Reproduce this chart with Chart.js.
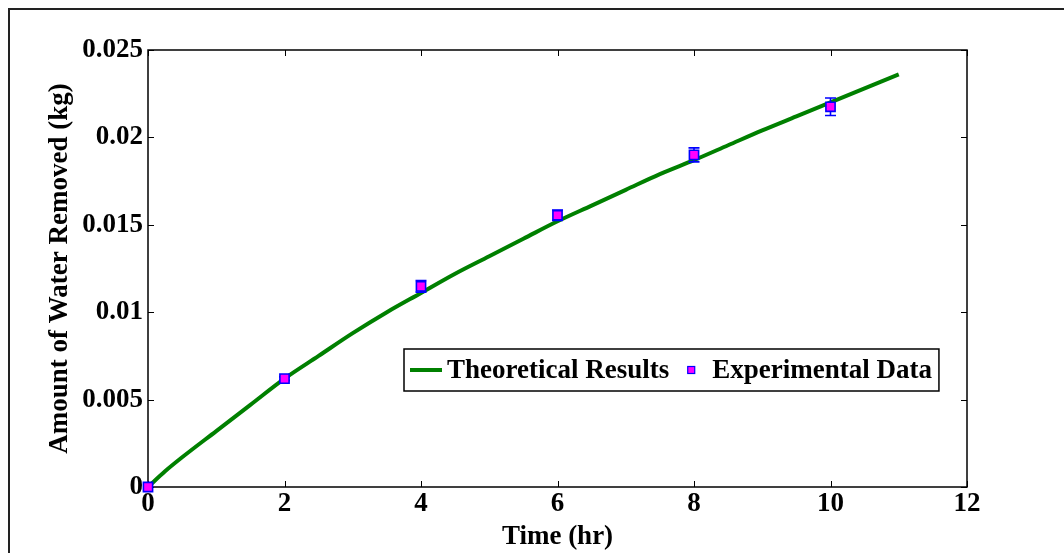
<!DOCTYPE html>
<html>
<head>
<meta charset="utf-8">
<script src="https://cdn.jsdelivr.net/npm/chart.js@4/dist/chart.umd.min.js"></script>
<style>
  html, body { margin: 0; padding: 0; background: #fff; }
  #wrap { position: relative; width: 1064px; height: 553px; }
</style>
</head>
<body>
<div id="wrap"><canvas id="waterChart" width="1064" height="553"></canvas></div>
<script>
// Theoretical curve
const theoryTime = [0, 0.25, 0.5, 1, 1.5, 2, 2.5, 3, 3.5, 4, 4.5, 5, 5.5, 6, 6.5, 7, 7.5, 8, 8.5, 9, 9.5, 10, 10.5, 11];
const theoryWater = [0, 0.0009, 0.0017, 0.0032, 0.0047, 0.0062, 0.0075, 0.0088, 0.0100, 0.0111, 0.0122, 0.0132, 0.0142, 0.0152, 0.0161, 0.0170, 0.0179, 0.0187, 0.01955, 0.0204, 0.0212, 0.0220, 0.0228, 0.0236];

// Experimental points and error half-widths
const expTime = [0, 2, 4, 6, 8, 10];
const expWater = [0, 0.0062, 0.01148, 0.01555, 0.0190, 0.02175];
const expErr = [0, 0.0001, 0.00033, 0.0003, 0.0004, 0.0005];

// Axis ticks
const xTicks = [0, 2, 4, 6, 8, 10, 12];
const yTicks = [0, 0.005, 0.01, 0.015, 0.02, 0.025];
const yTickLabels = ["0", "0.005", "0.01", "0.015", "0.02", "0.025"];

const FONT = "'Liberation Serif', 'Times New Roman', serif";
const FS = 27;

// Error bars drawn just before the experimental markers
const errorBars = {
    id: 'errorBars',
    beforeDatasetDraw(chart, args) {
        if (args.index !== 0) return;
        const { ctx, scales: { x, y } } = chart;
        ctx.save();
        ctx.strokeStyle = '#0000ff';
        ctx.lineWidth = 1.6;
        expTime.forEach((t, i) => {
            if (!expErr[i]) return;
            const px = x.getPixelForValue(t);
            const top = y.getPixelForValue(expWater[i] + expErr[i]);
            const bot = y.getPixelForValue(expWater[i] - expErr[i]);
            ctx.beginPath();
            ctx.moveTo(px, top); ctx.lineTo(px, bot);
            ctx.moveTo(px - 5.5, top); ctx.lineTo(px + 5.5, top);
            ctx.moveTo(px - 5.5, bot); ctx.lineTo(px + 5.5, bot);
            ctx.stroke();
        });
        ctx.restore();
    }
};

// Box around plot, inward ticks on all four sides, outer figure border, legend
const frame = {
    id: 'frame',
    beforeDatasetsDraw(chart) {
        const { ctx, chartArea: ca, scales: { x, y } } = chart;
        ctx.save();
        // figure border (only top and left are in view)
        ctx.strokeStyle = '#222';
        ctx.lineWidth = 2;
        ctx.beginPath();
        ctx.moveTo(9, chart.height); ctx.lineTo(9, 9); ctx.lineTo(chart.width, 9);
        ctx.stroke();

        ctx.strokeStyle = '#000';
        ctx.lineWidth = 1.5;
        ctx.strokeRect(ca.left, ca.top, ca.right - ca.left, ca.bottom - ca.top);
        ctx.lineWidth = 1;
        ctx.beginPath();
        xTicks.forEach(t => {
            const px = Math.round(x.getPixelForValue(t)) + 0.5;
            ctx.moveTo(px, ca.bottom); ctx.lineTo(px, ca.bottom - 6);
            ctx.moveTo(px, ca.top); ctx.lineTo(px, ca.top + 6);
        });
        yTicks.forEach(v => {
            const py = Math.round(y.getPixelForValue(v)) + 0.5;
            ctx.moveTo(ca.left, py); ctx.lineTo(ca.left + 6, py);
            ctx.moveTo(ca.right, py); ctx.lineTo(ca.right - 6, py);
        });
        ctx.stroke();
        ctx.restore();
    },
    afterDraw(chart) {
        const { ctx, chartArea: ca } = chart;
        ctx.save();
        // legend
        const lx = ca.left + 256, ly = ca.top + 299, lh = 42;
        ctx.font = "bold " + FS + "px " + FONT;
        const t1 = chart.data.datasets[1].label, t2 = chart.data.datasets[0].label;
        const w1 = ctx.measureText(t1).width, w2 = ctx.measureText(t2).width;
        const lw = 6 + 32 + 5 + w1 + 22 + 21 + w2 + 7;
        ctx.fillStyle = '#fff';
        ctx.fillRect(lx, ly, lw, lh);
        ctx.lineWidth = 1.5;
        ctx.strokeStyle = '#000';
        ctx.strokeRect(lx, ly, lw, lh);
        const cy = ly + lh / 2;
        ctx.strokeStyle = '#008000';
        ctx.lineWidth = 4;
        ctx.beginPath();
        ctx.moveTo(lx + 6, cy); ctx.lineTo(lx + 38, cy);
        ctx.stroke();
        ctx.fillStyle = '#000';
        ctx.textBaseline = 'middle';
        ctx.fillText(t1, lx + 43, cy + 1);
        const mx = lx + 43 + w1 + 22;
        ctx.fillStyle = '#ff00ff';
        ctx.strokeStyle = '#0000ff';
        ctx.lineWidth = 1.2;
        ctx.fillRect(mx - 3.5, cy - 3.5, 7, 7);
        ctx.strokeRect(mx - 3.5, cy - 3.5, 7, 7);
        ctx.fillStyle = '#000';
        ctx.fillText(t2, mx + 21, cy + 1);
        ctx.restore();
    }
};

new Chart(document.getElementById('waterChart'), {
    type: 'scatter',
    data: {
        datasets: [
            {
                label: 'Experimental Data',
                data: expTime.map((t, i) => ({ x: t, y: expWater[i] })),
                pointStyle: 'rect',
                pointRadius: 6.5,
                backgroundColor: '#ff00ff',
                borderColor: '#0000ff',
                pointBorderWidth: 1.6,
                clip: false,
                order: 0
            },
            {
                label: 'Theoretical Results',
                data: theoryTime.map((t, i) => ({ x: t, y: theoryWater[i] })),
                showLine: true,
                borderColor: '#008000',
                borderWidth: 4,
                pointRadius: 0,
                cubicInterpolationMode: 'monotone',
                order: 1
            }
        ]
    },
    options: {
        responsive: false,
        animation: false,
        events: [],
        layout: { padding: { top: 50, right: 97, bottom: 0, left: 0 } },
        plugins: {
            legend: { display: false },
            tooltip: { enabled: false }
        },
        scales: {
            x: {
                type: 'linear',
                min: 0, max: 12,
                afterBuildTicks: s => { s.ticks = xTicks.map(v => ({ value: v })); },
                afterFit: s => { s.height = 66; },
                grid: { display: false, drawTicks: false },
                border: { display: false },
                ticks: {
                    color: '#000',
                    padding: 1,
                    maxRotation: 0,
                    font: { family: FONT, size: FS, weight: 'bold' }
                },
                title: {
                    display: true,
                    text: 'Time (hr)',
                    color: '#000',
                    padding: { top: 0, bottom: 0 },
                    font: { family: FONT, size: FS, weight: 'bold' }
                }
            },
            y: {
                type: 'linear',
                min: 0, max: 0.025,
                afterBuildTicks: s => { s.ticks = yTicks.map(v => ({ value: v })); },
                afterFit: s => { s.width = 148; },
                grid: { display: false, drawTicks: false },
                border: { display: false },
                ticks: {
                    color: '#000',
                    padding: 5,
                    callback: (v) => yTickLabels[yTicks.indexOf(v)] ?? '',
                    font: { family: FONT, size: FS, weight: 'bold' }
                },
                title: {
                    display: true,
                    text: 'Amount of Water Removed (kg)',
                    color: '#000',
                    padding: { top: 44, bottom: 0 },
                    font: { family: FONT, size: FS, weight: 'bold' }
                }
            }
        }
    },
    plugins: [errorBars, frame]
});
</script>
</body>
</html>
